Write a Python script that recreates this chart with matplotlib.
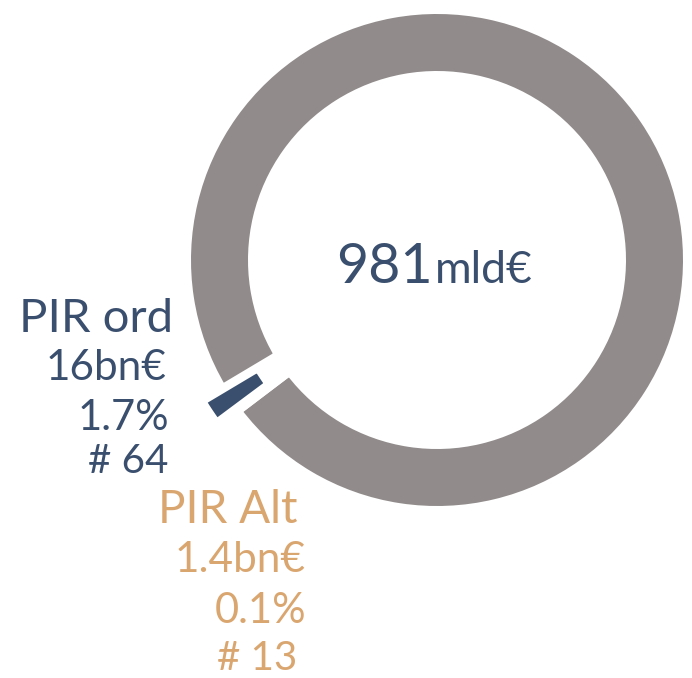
import matplotlib
matplotlib.use("Agg")
import matplotlib.pyplot as plt

# ---- data ----
categories = ["Other", "PIR ord", "PIR Alt"]
values_bn = [963.6, 16, 1.4]
total_label = "981"
total_unit = "mld€"
label_names = ["PIR ord", "PIR Alt"]
label_amounts = ["16bn€", "1.4bn€"]
label_pcts = ["1.7%", "0.1%"]
label_counts = ["# 64", "# 13"]

# ---- style ----
GRAY = "#918B8B"
BLUE = "#3A4F6E"
TAN = "#DAA670"
plt.rcParams['font.family'] = ['Lato', 'DejaVu Sans']

W, H = 692, 678
fig = plt.figure(figsize=(W / 100, H / 100), dpi=100)
ax = fig.add_axes([0, 0, 1, 1])

cx, cy = 437, H - 260
lw_pt = 5.5
lw_px = lw_pt / 72 * 100
R = 246 + lw_px / 2
ax.pie(values_bn, colors=[GRAY, BLUE, TAN], startangle=217.2,
       radius=R, center=(cx, cy), explode=[0, 24, 0],
       wedgeprops=dict(width=57 + lw_px, edgecolor="white", linewidth=lw_pt))
ax.set_xlim(0, W)
ax.set_ylim(0, H)
ax.set_aspect("equal")
ax.axis("off")

# centre total
ax.text(433, H - 283, total_label, ha="right", va="baseline",
        fontsize=40, color=BLUE)
ax.text(435, H - 283, total_unit, ha="left", va="baseline",
        fontsize=32, color=BLUE)

# PIR ord labels
ax.text(173, H - 332, label_names[0], ha="right", va="baseline", fontsize=34, color=BLUE)
ax.text(166, H - 380, label_amounts[0], ha="right", va="baseline", fontsize=30.5, color=BLUE)
ax.text(169, H - 430, label_pcts[0], ha="right", va="baseline", fontsize=30, color=BLUE)
ax.text(168, H - 473, label_counts[0], ha="right", va="baseline", fontsize=29, color=BLUE)

# PIR Alt labels
ax.text(297, H - 523, label_names[1], ha="right", va="baseline", fontsize=33, color=TAN)
ax.text(306, H - 572, label_amounts[1], ha="right", va="baseline", fontsize=30.5, color=TAN)
ax.text(306, H - 623, label_pcts[1], ha="right", va="baseline", fontsize=30, color=TAN)
ax.text(297, H - 670, label_counts[1], ha="right", va="baseline", fontsize=29, color=TAN)

fig.savefig("out.png", dpi=100, facecolor="white")
